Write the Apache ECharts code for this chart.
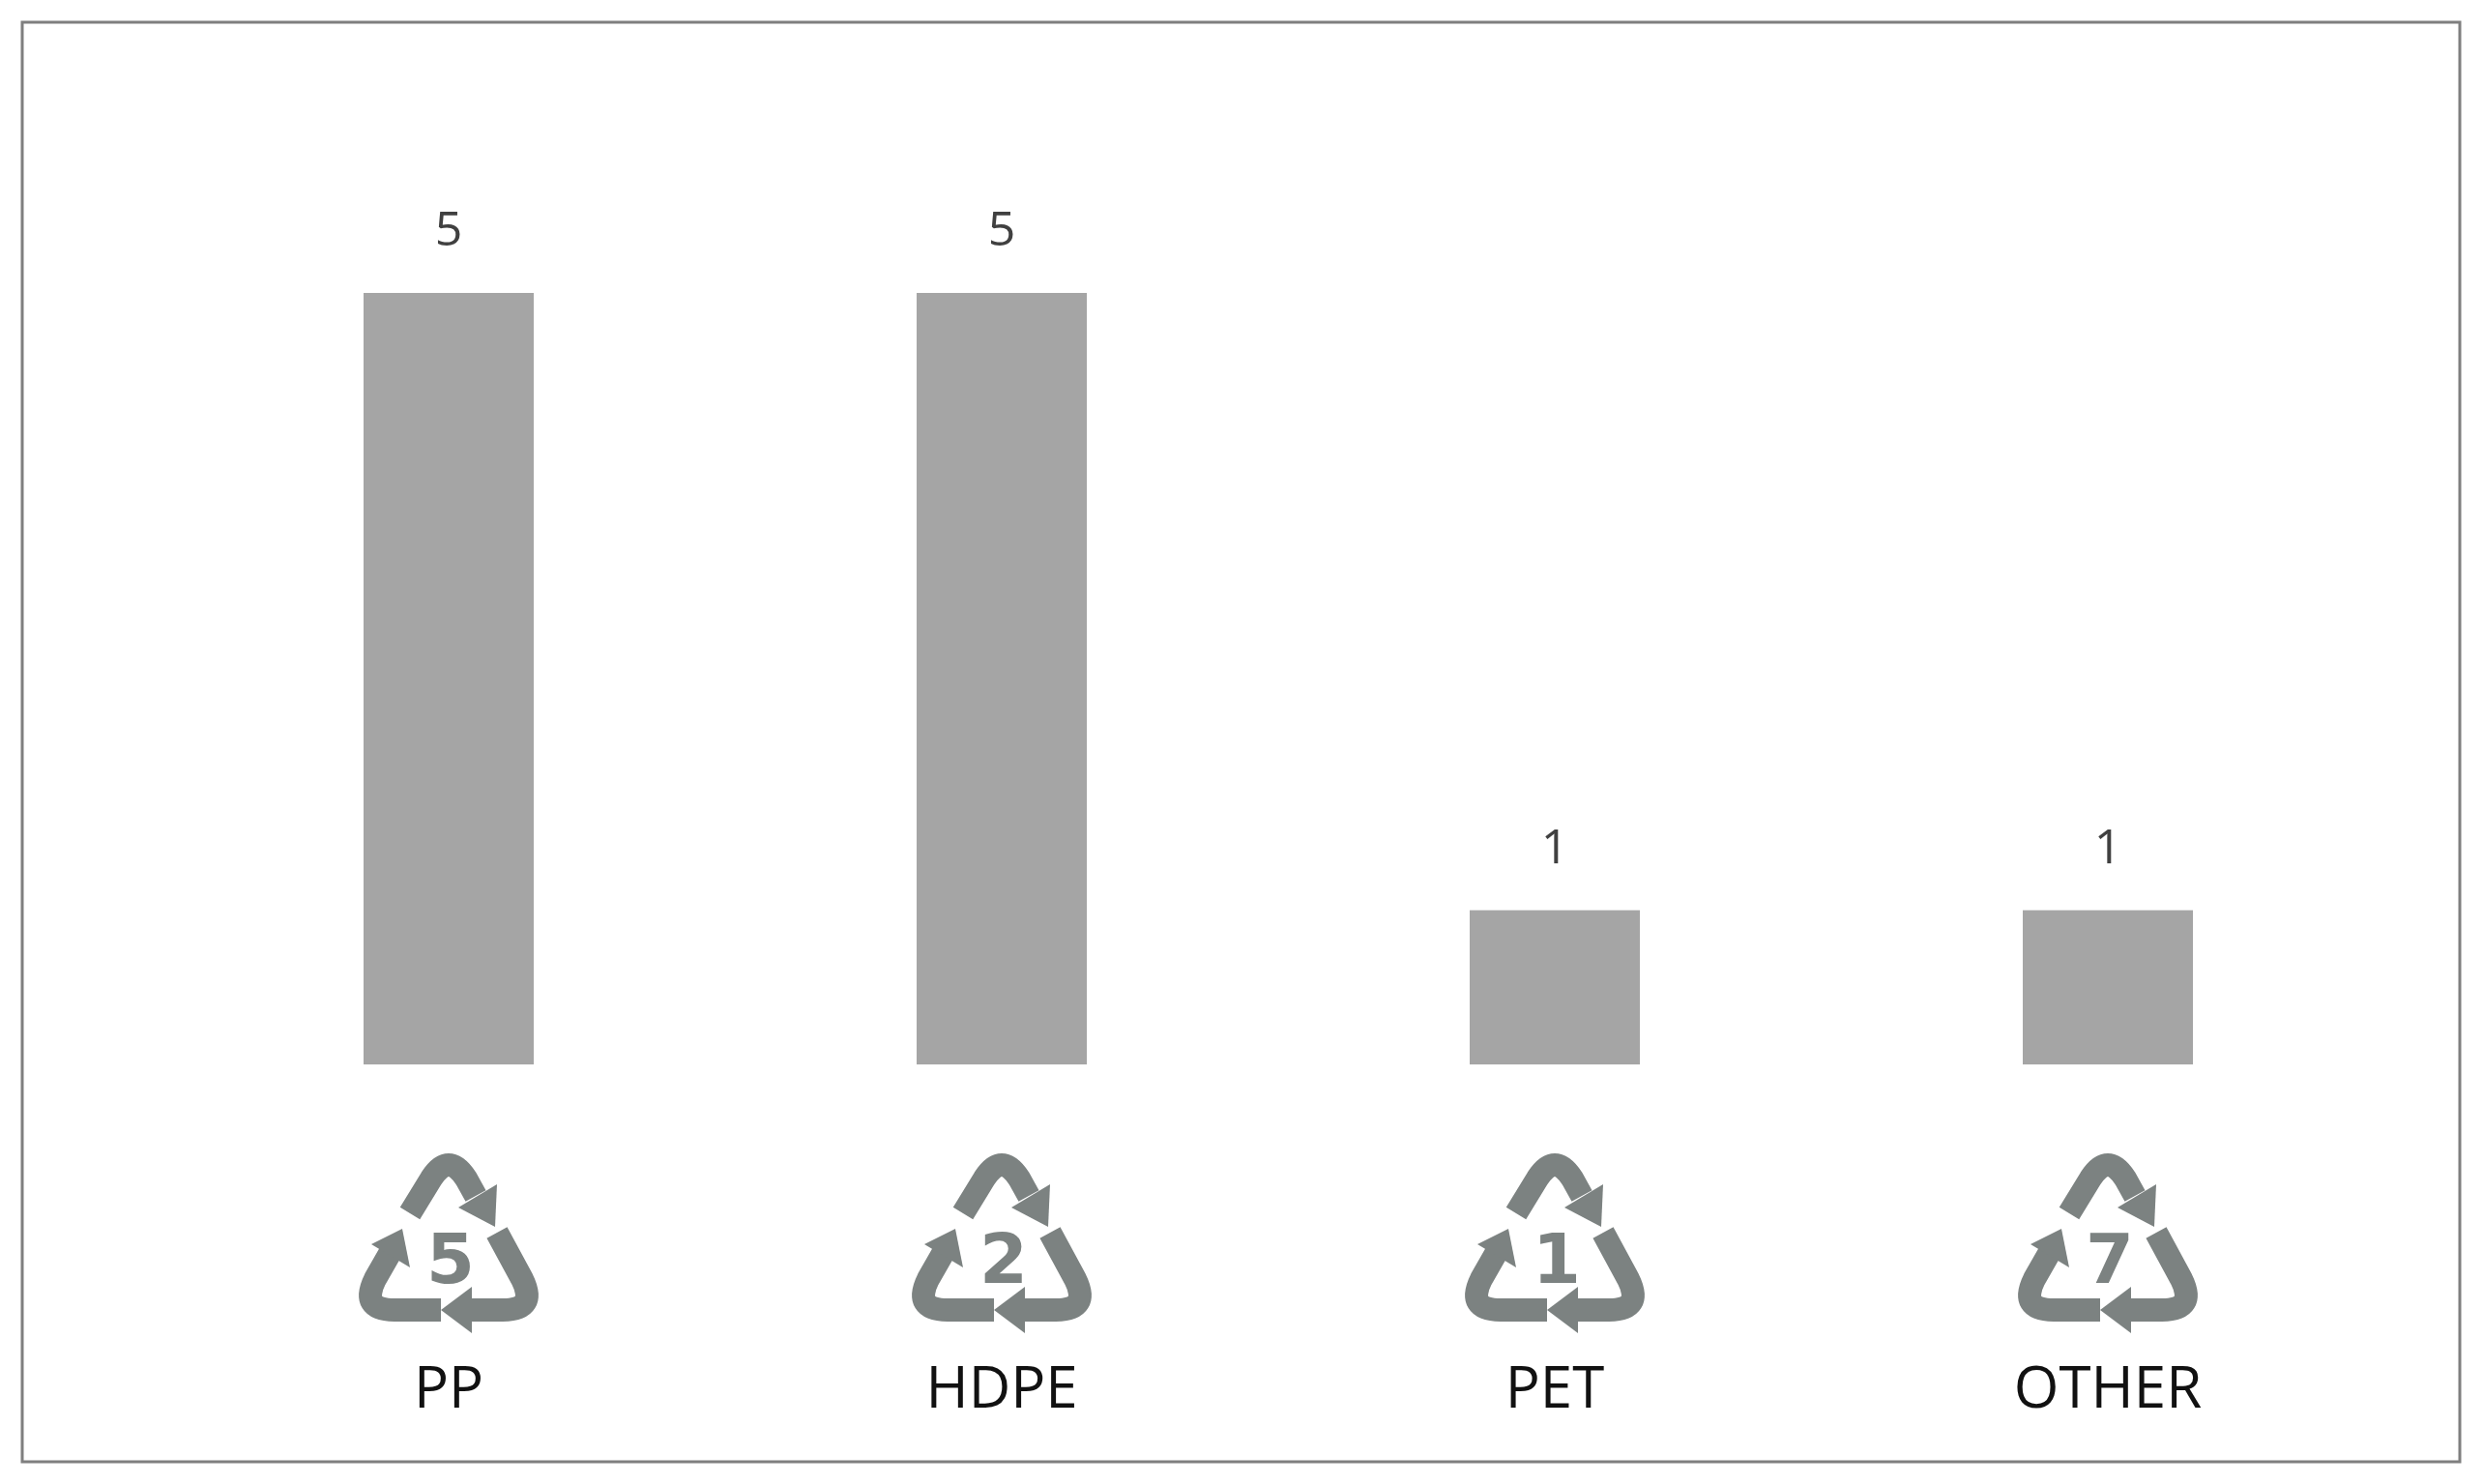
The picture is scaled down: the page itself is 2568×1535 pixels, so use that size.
<!DOCTYPE html>
<html>
<head>
<meta charset="utf-8">
<script src="https://cdn.jsdelivr.net/npm/echarts@6/dist/echarts.min.js"></script>
<style>
html,body{margin:0;padding:0;background:#fff;}
#main{width:2568px;height:1535px;}
</style>
</head>
<body>
<div id="main"></div>
<script>
var categories = ['PP', 'HDPE', 'PET', 'OTHER'];
var resinCodes = ['5', '2', '1', '7'];
var counts = [5, 5, 1, 1];

// recycling triangle drawn as svg, with the resin code in the middle
function recycleIcon(code){
	var g = '#7c8281';
	var svg = '<svg xmlns="http://www.w3.org/2000/svg" viewBox="0 0 100 100">' +
		'<g fill="none" stroke="' + g + '" stroke-width="12">' +
		'<path d="M30,38 L41,20 Q50,6 59,20 L64,29"/>' +
		'<path d="M75,48 L88,72 Q96,88 78,88 L62,88"/>' +
		'<path d="M46,88 L22,88 Q4,88 12,72 L20,58"/>' +
		'</g><g fill="' + g + '">' +
		'<polygon points="74,45 75,23 55,35"/>' +
		'<polygon points="46,88 62,76 62,100"/>' +
		'<polygon points="26,46 30,66 10,54"/>' +
		'<text x="51" y="74" text-anchor="middle" font-family="DejaVu Sans, sans-serif" font-weight="bold" font-size="36">' + code + '</text>' +
		'</g></svg>';
	return 'data:image/svg+xml;charset=utf-8,' + encodeURIComponent(svg);
}

var rich = {
	name: {fontSize: 60, fontFamily: 'Open Sans, sans-serif', color: '#111', lineHeight: 120}
};
for (var i = 0; i < categories.length; i++) {
	rich['icon' + i] = {width: 200, height: 200, backgroundColor: {image: recycleIcon(resinCodes[i])}};
}

var myChart = echarts.init(document.getElementById('main'));
var option = {
	animation: false,
	grid: {left: 178, right: 102, top: 303, bottom: 434},
	graphic: [{
		type: 'rect',
		shape: {x: 23, y: 23, width: 2521, height: 1489},
		style: {fill: 'none', stroke: '#7f7f7f', lineWidth: 3},
		silent: true
	}],
	xAxis: {
		type: 'category',
		data: categories,
		axisLine: {show: false},
		axisTick: {show: false},
		axisLabel: {
			margin: 78,
			interval: 0,
			formatter: function(v, idx){
				return '{icon' + idx + '|}\n{name|' + v + '}';
			},
			rich: rich
		}
	},
	yAxis: {
		type: 'value',
		min: 0,
		max: 5,
		show: false,
		splitLine: {show: false}
	},
	series: [{
		type: 'bar',
		data: counts,
		barWidth: 176,
		itemStyle: {color: '#a5a5a5'},
		label: {
			show: true,
			position: 'top',
			distance: 38,
			fontSize: 50,
			fontFamily: 'Open Sans, sans-serif',
			color: '#404040'
		}
	}]
};
myChart.setOption(option);
</script>
</body>
</html>
